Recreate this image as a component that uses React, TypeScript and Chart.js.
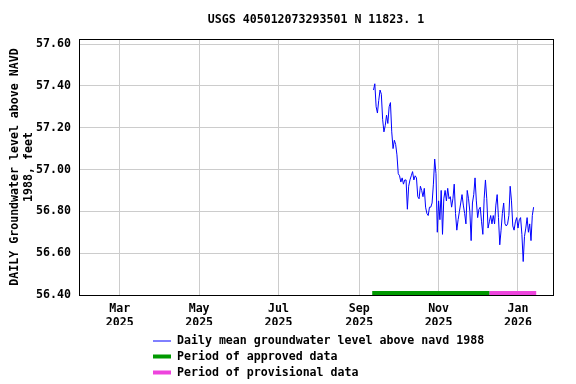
import React, { useEffect, useRef } from 'react';
import { Chart, registerables } from 'chart.js';

Chart.register(...registerables);

const titleText = 'USGS 405012073293501 N 11823. 1';
const yTitleLines = ['DAILY Groundwater level above NAVD', '1988, feet'];

// x values are days counted from 2025-01-01
const levelStartDay = 254; // 2025-09-12
const levelValues = [
  57.38, 57.41, 57.30, 57.27, 57.33, 57.38, 57.36, 57.24, 57.18, 57.21,
  57.26, 57.22, 57.30, 57.32, 57.18, 57.10, 57.14, 57.12, 57.07, 56.98,
  56.97, 56.94, 56.96, 56.93, 56.95, 56.95, 56.81, 56.92, 56.95, 56.97,
  56.99, 56.95, 56.97, 56.96, 56.87, 56.86, 56.92, 56.90, 56.87, 56.91,
  56.82, 56.79, 56.78, 56.82, 56.82, 56.84, 56.93, 57.05, 56.98, 56.70,
  56.85, 56.76, 56.90, 56.69, 56.86, 56.90, 56.85, 56.91, 56.86, 56.87,
  56.82, 56.86, 56.93, 56.79, 56.71, 56.76, 56.80, 56.84, 56.88, 56.83,
  56.79, 56.74, 56.90, 56.86, 56.80, 56.66, 56.84, 56.88, 56.96, 56.85,
  56.77, 56.81, 56.82, 56.75, 56.69, 56.86, 56.95, 56.86, 56.72, 56.75,
  56.78, 56.74, 56.78, 56.74, 56.83, 56.88, 56.77, 56.64, 56.71, 56.79,
  56.84, 56.74, 56.73, 56.74, 56.78, 56.92, 56.85, 56.73, 56.71, 56.75,
  56.77, 56.72, 56.76, 56.77, 56.69, 56.56, 56.68, 56.72, 56.77, 56.70,
  56.74, 56.66, 56.78, 56.82,
];

const approvedDays = [253, 343];
const provisionalDays = [343, 379];
const periodBarLevel = 56.409;

const xMinDay = 27.7;
const xMaxDay = 391.9;
const xTickDays = [59, 120, 181, 243, 304, 365];
const xTickMonths = ['Mar', 'May', 'Jul', 'Sep', 'Nov', 'Jan'];
const xTickYears = ['2025', '2025', '2025', '2025', '2025', '2026'];

const yMin = 56.4;
const yMax = 57.624;
const yTickValues = [56.4, 56.6, 56.8, 57.0, 57.2, 57.4, 57.6];

const legendLabels = [
  'Daily mean groundwater level above navd 1988',
  'Period of approved data',
  'Period of provisional data',
];
const lineColor = '#0000ff';
const approvedColor = '#009900';
const provisionalColor = '#ee44dd';

const FONT = 'bold 11.6px "DejaVu Sans Mono", monospace';

const decorPlugin = {
  id: 'decor',
  afterDatasetsDraw(chart: any) {
    const { ctx, chartArea } = chart;
    ctx.save();
    ctx.strokeStyle = '#000';
    ctx.lineWidth = 1;
    ctx.strokeRect(
      Math.round(chartArea.left) + 0.5,
      Math.round(chartArea.top) + 0.5,
      Math.round(chartArea.right - chartArea.left),
      Math.round(chartArea.bottom - chartArea.top)
    );
    ctx.restore();
  },
  afterDraw(chart: any) {
    const { ctx, chartArea } = chart;
    ctx.save();
    ctx.fillStyle = '#000';
    ctx.font = FONT;
    ctx.textBaseline = 'middle';
    // title
    ctx.textAlign = 'center';
    ctx.fillText(titleText, (chartArea.left + chartArea.right) / 2, 20);
    // y axis title
    ctx.save();
    ctx.translate(15, (chartArea.top + chartArea.bottom) / 2);
    ctx.rotate(-Math.PI / 2);
    ctx.fillText(yTitleLines[0], 0, 0);
    ctx.fillText(yTitleLines[1], 0, 14);
    ctx.restore();
    // legend
    const colors = [lineColor, approvedColor, provisionalColor];
    const widths = [1, 4, 4];
    const rowsY = [341, 356.5, 372.5];
    ctx.textAlign = 'left';
    legendLabels.forEach((label, i) => {
      ctx.strokeStyle = colors[i];
      ctx.lineWidth = widths[i];
      ctx.beginPath();
      ctx.moveTo(153, rowsY[i]);
      ctx.lineTo(171, rowsY[i]);
      ctx.stroke();
      ctx.fillText(label, 177, rowsY[i]);
    });
    ctx.restore();
  },
};

export default function App() {
  const ref = useRef<HTMLCanvasElement | null>(null);
  useEffect(() => {
    document.body.style.margin = '0';
    const canvas = ref.current;
    if (!canvas) return;
    const levelPoints = levelValues.map((v, i) => ({ x: levelStartDay + i, y: v }));
    const chart = new Chart(canvas, {
      type: 'line',
      data: {
        datasets: [
          {
            label: legendLabels[0],
            data: levelPoints,
            borderColor: lineColor,
            borderWidth: 1,
            pointRadius: 0,
            tension: 0,
            fill: false,
          },
          {
            label: legendLabels[1],
            data: approvedDays.map((d) => ({ x: d, y: periodBarLevel })),
            borderColor: approvedColor,
            borderWidth: 4,
            pointRadius: 0,
            fill: false,
          },
          {
            label: legendLabels[2],
            data: provisionalDays.map((d) => ({ x: d, y: periodBarLevel })),
            borderColor: provisionalColor,
            borderWidth: 4,
            pointRadius: 0,
            fill: false,
          },
        ],
      },
      options: {
        responsive: false,
        animation: false,
        layout: { padding: { top: 39, right: 23, bottom: 59, left: 0 } },
        plugins: {
          legend: { display: false },
          title: { display: false },
          tooltip: { enabled: false },
        },
        scales: {
          x: {
            type: 'linear',
            min: xMinDay,
            max: xMaxDay,
            afterBuildTicks: (scale: any) => {
              scale.ticks = xTickDays.map((v) => ({ value: v }));
            },
            afterFit: (scale: any) => {
              scale.height = 30;
            },
            border: { display: false },
            grid: { color: '#cccccc', lineWidth: 1, drawTicks: false },
            ticks: {
              autoSkip: false,
              maxRotation: 0,
              padding: 7,
              color: '#000',
              font: { family: '"DejaVu Sans Mono", monospace', size: 11.6, weight: 'bold', lineHeight: 1.2 },
              callback: (value: any) => {
                const i = xTickDays.indexOf(Number(value));
                return i >= 0 ? [xTickMonths[i], xTickYears[i]] : '';
              },
            },
          },
          y: {
            type: 'linear',
            min: yMin,
            max: yMax,
            afterBuildTicks: (scale: any) => {
              scale.ticks = yTickValues.map((v) => ({ value: v }));
            },
            afterFit: (scale: any) => {
              scale.width = 79;
            },
            border: { display: false },
            grid: { color: '#cccccc', lineWidth: 1, drawTicks: false },
            ticks: {
              padding: 8,
              color: '#000',
              font: { family: '"DejaVu Sans Mono", monospace', size: 11.6, weight: 'bold' },
              callback: (value: any) => Number(value).toFixed(2),
            },
          },
        },
      },
      plugins: [decorPlugin],
    } as any);
    return () => chart.destroy();
  }, []);
  return (
    <div style={{ width: 576, height: 384 }}>
      <canvas ref={ref} width={576} height={384} style={{ display: 'block' }} />
    </div>
  );
}
